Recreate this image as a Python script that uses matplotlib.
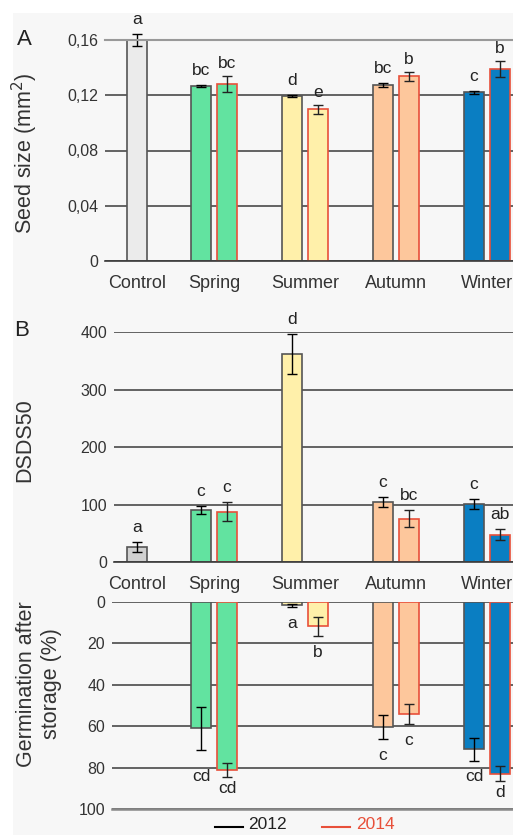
import numpy as np
import matplotlib
matplotlib.use("Agg")
import matplotlib.pyplot as plt
from matplotlib.lines import Line2D
from matplotlib.patches import Rectangle

plt.rcParams['font.family'] = ['Liberation Sans', 'DejaVu Sans']

nan = np.nan
seasons = ["Control", "Spring", "Summer", "Autumn", "Winter"]

# A: seed size (mm2)
size_2012 = [0.160, 0.1267, 0.1195, 0.1274, 0.1221]
size_2012_err = [0.004, 0.0008, 0.0008, 0.0012, 0.0012]
size_2014 = [nan, 0.1281, 0.1098, 0.1337, 0.1388]
size_2014_err = [nan, 0.0057, 0.0035, 0.0034, 0.0057]
size_let_2012 = ["a", "bc", "d", "bc", "c"]
size_let_2014 = ["", "bc", "e", "b", "b"]

# B: DSDS50
dsds_2012 = [27, 91, 362, 105, 101]
dsds_2012_err = [8.4, 6.7, 35, 8.1, 8.4]
dsds_2014 = [nan, 88, nan, 76, 47.5]
dsds_2014_err = [nan, 16.8, nan, 14.8, 9.5]
dsds_let_2012 = ["a", "c", "d", "c", "c"]
dsds_let_2014 = ["", "c", "", "bc", "ab"]

# germination after storage (%)
germ_2012 = [nan, 61, 1.6, 60.5, 71]
germ_2012_err = [nan, 10.2, 0.6, 5.8, 5.5]
germ_2014 = [nan, 81, 11.7, 54, 82.8]
germ_2014_err = [nan, 3.5, 4.7, 4.7, 3.5]
germ_let_2012 = ["", "cd", "a", "c", "cd"]
germ_let_2014 = ["", "cd", "b", "c", "d"]

fills_a = ["#ebebeb", "#62e3a0", "#fff0aa", "#fdc79c", "#0a7ec2"]
fills_b = ["#d0d0d0", "#62e3a0", "#fff0aa", "#fdc79c", "#0a7ec2"]
red = "#e8503a"
grid_c = "#3a3a3a"

W, H = 513, 835
fig = plt.figure(figsize=(W / 100, H / 100), dpi=100)
fig.patches.append(Rectangle((13 / W, 0), 1, 1 - 13 / H, transform=fig.transFigure,
                             facecolor="#f7f7f7", edgecolor="none", zorder=-10))

centers = np.array([0.15, 1, 2, 3, 4])
off = np.array([0, 0.143, 0.143, 0.143, 0.143])
bw = 0.22


def xpx(px):
    return 1 + (px - 214) / 91


def make_ax(left, top, bottom):
    ax = fig.add_axes([left / W, 1 - bottom / H, (W - left) / W, (bottom - top) / H])
    ax.set_facecolor("none")
    ax.set_xlim(xpx(left), xpx(W))
    ax.set_axisbelow(True)
    for s in ["left", "right", "top"]:
        ax.spines[s].set_visible(False)
    ax.spines["bottom"].set_color(grid_c)
    ax.spines["bottom"].set_linewidth(1.2)
    ax.yaxis.grid(True, color=grid_c, lw=1.1)
    ax.tick_params(axis="y", length=0, pad=5, labelsize=11.5, labelcolor="#333333")
    ax.tick_params(axis="x", length=0, pad=10, labelsize=13, labelcolor="#333333")
    return ax


def noclip(eb):
    for part in eb.lines[1:]:
        for a in part:
            a.set_clip_on(False)


def draw(ax, v12, e12, v14, e14, l12, l14, fills, offs12, offs14):
    x12 = centers - off
    x14 = centers + off
    ax.bar(x12, v12, bw, color=fills, edgecolor="#555555", lw=1.2)
    ax.bar(x14, v14, bw, color=fills, edgecolor=red, lw=1.2)
    noclip(ax.errorbar(x12, v12, e12, fmt="none", ecolor="black", elinewidth=1,
                       capsize=3.3, capthick=1))
    noclip(ax.errorbar(x14, v14, e14, fmt="none", ecolor="#222222", elinewidth=1,
                       capsize=3.3, capthick=1))
    for xs, vs, es, ls, os in [(x12, v12, e12, l12, offs12), (x14, v14, e14, l14, offs14)]:
        for x, v, e, t, o in zip(xs, vs, es, ls, os):
            if t:
                ax.annotate(t, (x, v + e), xytext=(0, o * 0.72),
                            textcoords="offset points", ha="center", va="baseline",
                            fontsize=12.5, color="#222222", annotation_clip=False)


# panel A
ax1 = make_ax(105, 40, 261)
draw(ax1, size_2012, size_2012_err, size_2014, size_2014_err, size_let_2012, size_let_2014,
     fills_a, [10] * 5, [8] * 5)
ax1.set_ylim(0, 0.16)
ax1.set_yticks([0, 0.04, 0.08, 0.12, 0.16], ["0", "0,04", "0,08", "0,12", "0,16"])
ax1.spines["top"].set_visible(True)
ax1.spines["top"].set_color("#999999")
ax1.spines["top"].set_linewidth(1.5)
ax1.set_xticks(centers, seasons)

# panel B
ax2 = make_ax(114, 332, 562.3)
draw(ax2, dsds_2012, dsds_2012_err, dsds_2014, dsds_2014_err, dsds_let_2012, dsds_let_2014,
     fills_b, [10] * 5, [10] * 5)
ax2.set_ylim(0, 400)
ax2.set_yticks([0, 100, 200, 300, 400])
ax2.set_xticks(centers, seasons)

# panel C (inverted)
ax3 = make_ax(112, 602, 809.3)
draw(ax3, germ_2012, germ_2012_err, germ_2014, germ_2014_err, germ_let_2012, germ_let_2014,
     fills_b, [0, -31, -21, -21, -20], [0, -16, -21, -21, -16])
ax3.set_ylim(100, 0)
ax3.set_yticks([0, 20, 40, 60, 80, 100])
ax3.set_xticks([])
ax3.spines["bottom"].set_color("#888888")
ax3.spines["bottom"].set_linewidth(1.8)

# labels
fig.text(24 / W, 1 - 39.5 / H, "A", fontsize=16, ha="center", va="center", color="#222222")
fig.text(22 / W, 1 - 330 / H, "B", fontsize=16, ha="center", va="center", color="#222222")
fig.text(25 / W, 1 - 153 / H, "Seed size (mm$^2$)", rotation=90, fontsize=15.5,
         ha="center", va="center", color="#333333")
fig.text(25 / W, 1 - 440 / H, "DSDS50", rotation=90, fontsize=15.5,
         ha="center", va="center", color="#333333")
fig.text(39 / W, 1 - 684 / H, "Germination after\nstorage (%)", rotation=90, fontsize=15.5,
         ha="center", va="center", color="#333333", multialignment="center")

# legend
fig.add_artist(Line2D([215 / W, 243 / W], [1 - 827 / H] * 2, color="black", lw=1.5))
fig.text(248 / W, 1 - 829 / H, "2012", fontsize=12.5, va="baseline", color="#222222")
fig.add_artist(Line2D([322 / W, 350 / W], [1 - 827 / H] * 2, color=red, lw=1.5))
fig.text(356 / W, 1 - 829 / H, "2014", fontsize=12.5, va="baseline", color=red)

fig.savefig("out.png", dpi=100, facecolor="white")
